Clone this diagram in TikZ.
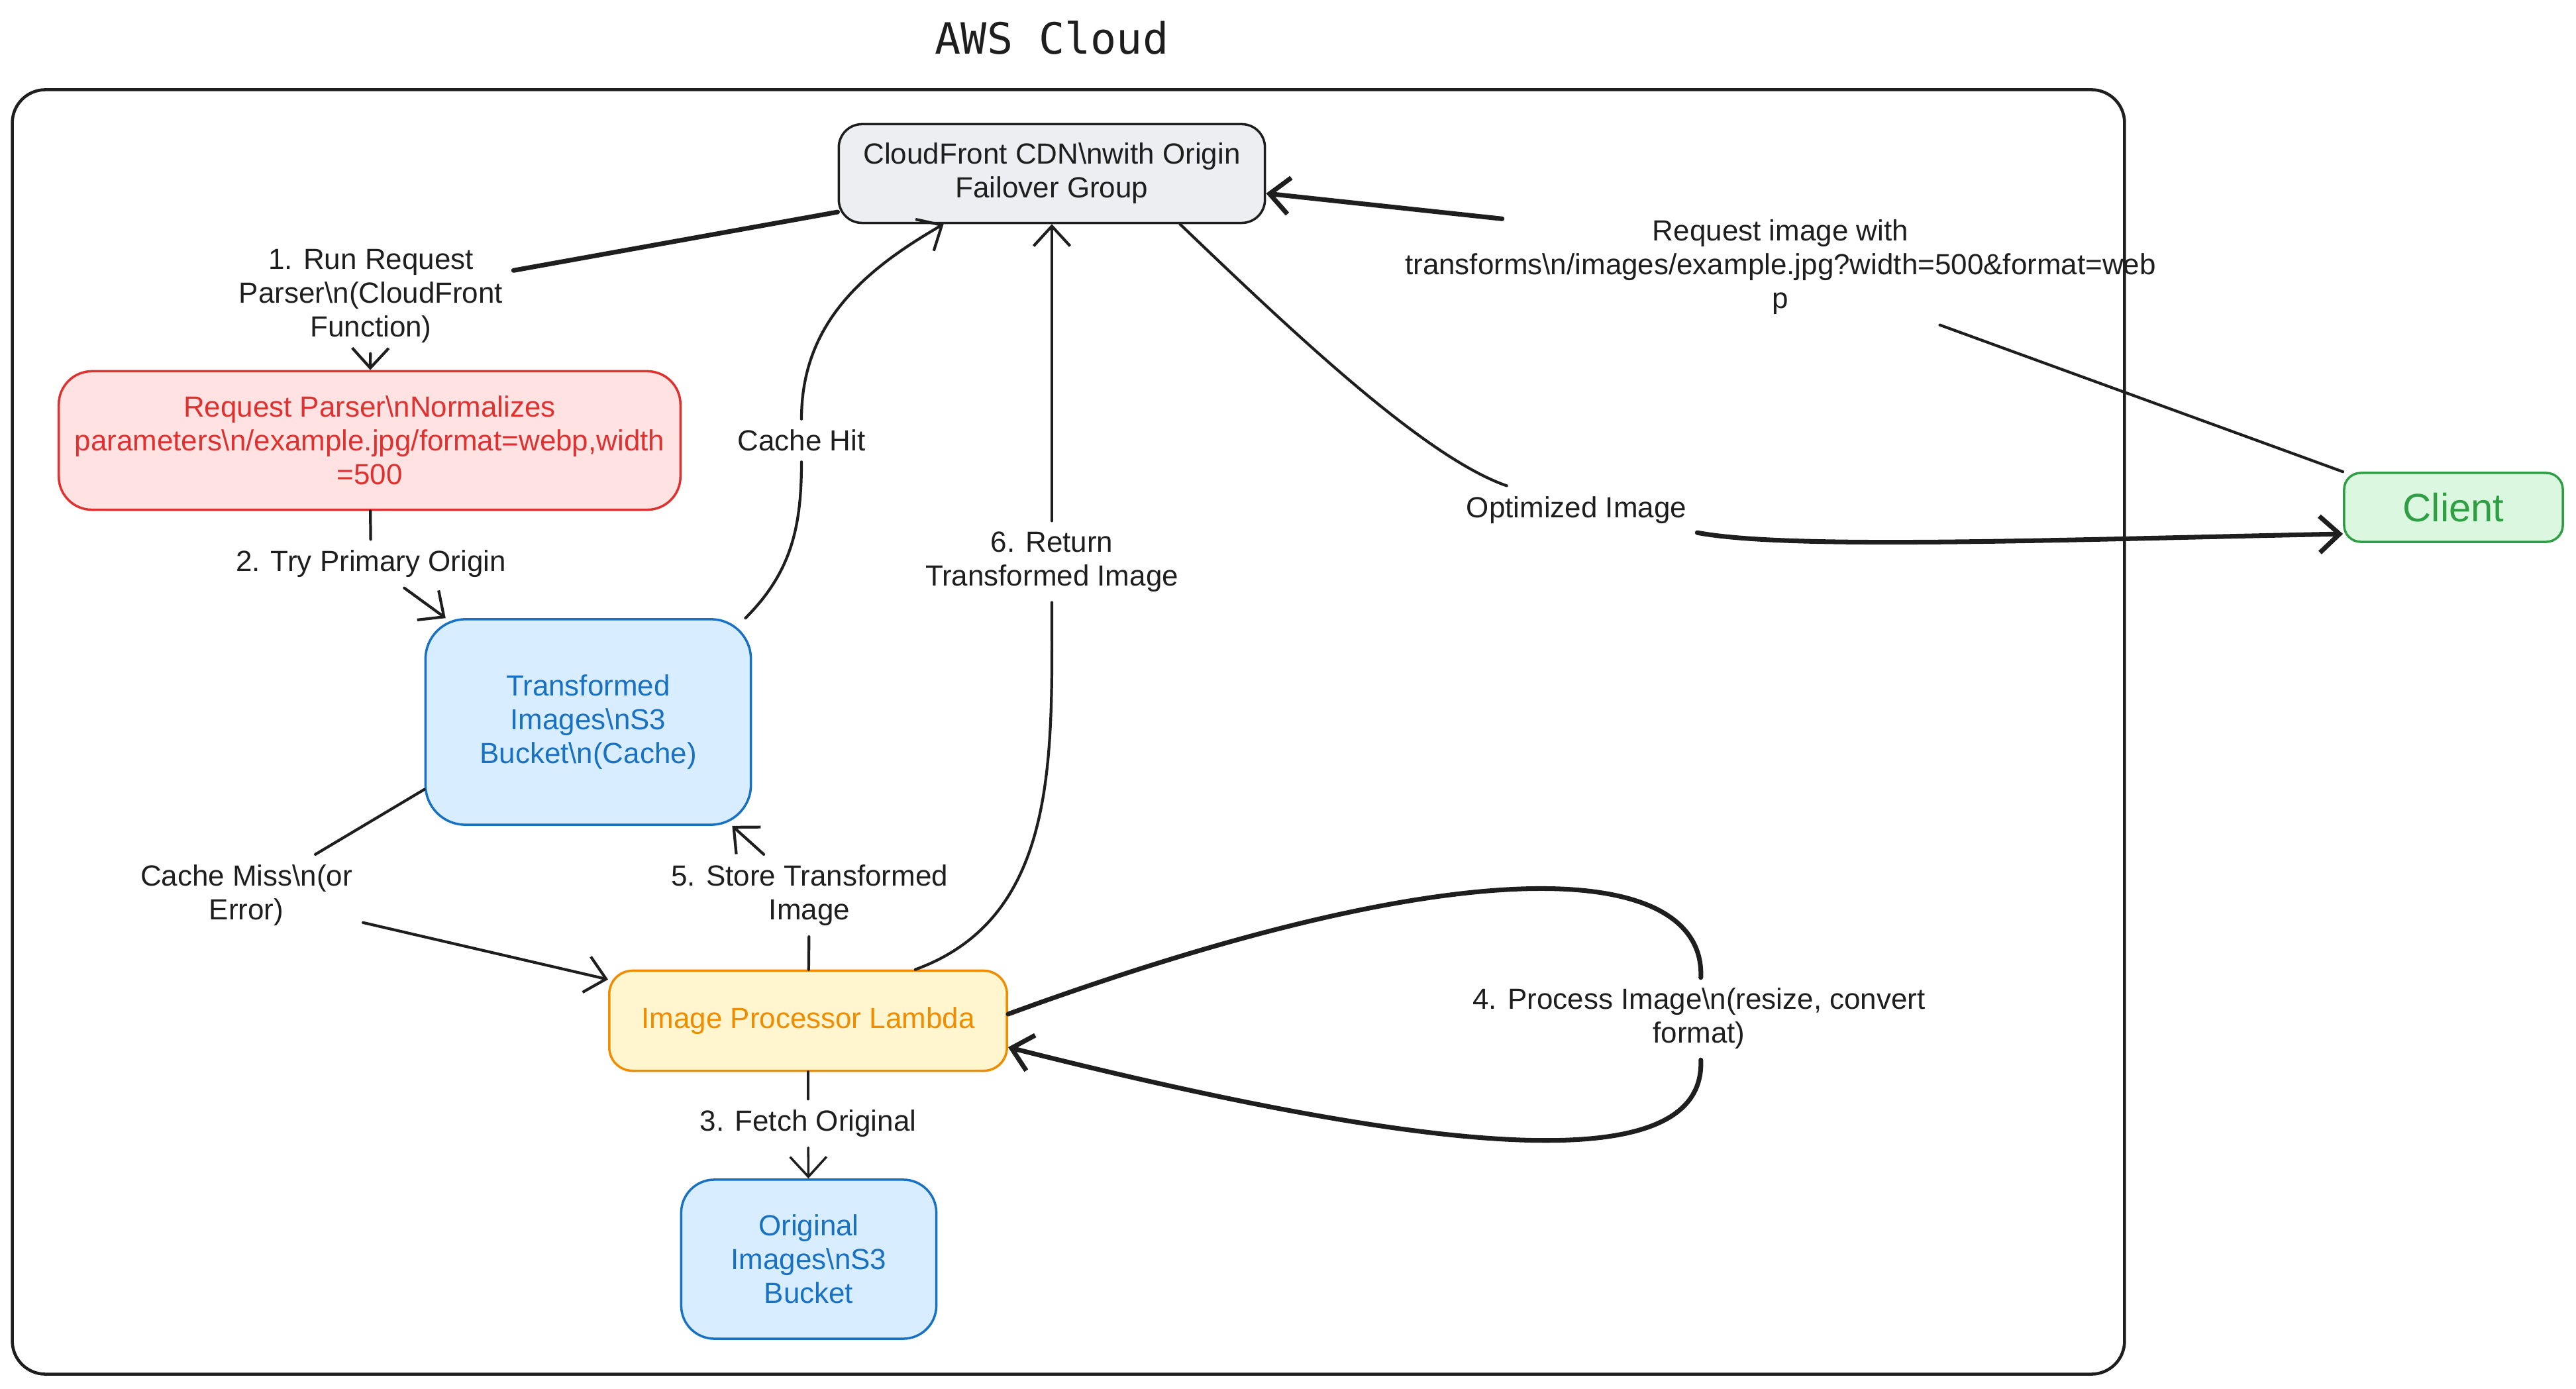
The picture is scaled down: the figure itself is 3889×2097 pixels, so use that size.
\documentclass[tikz,border=0pt]{standalone}
\usepackage{fontspec}
\setmainfont{Liberation Sans}
\newfontfamily\monofont{DejaVu Sans Mono}
\usetikzlibrary{arrows.meta}

\definecolor{ink}{HTML}{1E1E1E}
\definecolor{cffill}{HTML}{ECEEF2}
\definecolor{rpline}{HTML}{E03131}
\definecolor{rpfill}{HTML}{FFE2E2}
\definecolor{s3line}{HTML}{1971C2}
\definecolor{s3fill}{HTML}{D8EDFF}
\definecolor{lamline}{HTML}{F08C00}
\definecolor{lamfill}{HTML}{FFF6CF}
\definecolor{clline}{HTML}{2F9E44}
\definecolor{clfill}{HTML}{DBF7DF}

\begin{document}
\begin{tikzpicture}[x=0.01cm, y=-0.01cm, >={Straight Barb[length=3mm,width=5.5mm]}, line width=1.2pt, line cap=round, draw=ink]

\tikzstyle{every node} = [align=center, text=ink, font=\fontsize{12.5}{14.5}\selectfont]
\tikzstyle{box} = [rectangle, draw, rounded corners=0.35cm, line width=1pt]
\tikzstyle{lbl} = [inner sep=4pt]
\tikzstyle{heavy} = [line width=2pt]

\useasboundingbox (0,0) rectangle (3889,2097);

\node[font=\monofont\fontsize{18.5}{20}\selectfont] (title) at (1588,57) {AWS Cloud};
\node[box, draw=ink, line width=1.3pt, rounded corners=0.5cm, minimum width=31.87cm, minimum height=19.38cm] (aws) at (1613,1105) {};

\node[box, draw=ink, fill=cffill, minimum width=6.43cm, minimum height=1.49cm] (cf) at (1588,262) {CloudFront CDN\textbackslash nwith Origin\\Failover Group};
\node[box, draw=rpline, fill=rpfill, text=rpline, rounded corners=0.5cm, minimum width=9.38cm, minimum height=2.09cm] (rp) at (558,665) {Request Parser\textbackslash nNormalizes\\parameters\textbackslash n/example.jpg/format=webp,width\\=500};
\node[box, draw=s3line, fill=s3fill, text=s3line, rounded corners=0.6cm, minimum width=4.91cm, minimum height=3.10cm] (tc) at (888,1090) {Transformed\\Images\textbackslash nS3\\Bucket\textbackslash n(Cache)};
\node[box, draw=lamline, fill=lamfill, text=lamline, minimum width=6.0cm, minimum height=1.51cm] (lam) at (1220,1541) {Image Processor Lambda};
\node[box, draw=s3line, fill=s3fill, text=s3line, rounded corners=0.5cm, minimum width=3.85cm, minimum height=2.40cm] (orig) at (1221,1901) {Original\\Images\textbackslash nS3\\Bucket};
\node[box, draw=clline, fill=clfill, text=clline, rounded corners=0.25cm, minimum width=3.30cm, minimum height=1.04cm, font=\fontsize{17}{19}\selectfont] (cl) at (3704,766) {Client};

\node[lbl] (run) at (560,447) {1. Run Request\\Parser\textbackslash n(CloudFront\\Function)};
\node[lbl] (try) at (560,851) {2. Try Primary Origin};
\node[lbl] (hit) at (1210,665) {Cache Hit};
\node[lbl] (miss) at (372,1352) {Cache Miss\textbackslash n(or\\Error)};
\node[lbl] (store) at (1222,1352) {5. Store Transformed\\Image};
\node[lbl] (ret) at (1588,848) {6. Return\\Transformed Image};
\node[lbl] (fetch) at (1220,1696) {3. Fetch Original};
\node[lbl] (proc) at (2565,1538) {4. Process Image\textbackslash n(resize, convert\\format)};
\node[lbl] (req) at (2688,403) {Request image with\\transforms\textbackslash n/images/example.jpg?width=500\&format=web\\p};
\node[lbl] (opt) at (2380,770) {Optimized Image};

\draw[heavy] (cf) -- (run);
\draw[->] (run) -- (rp);
\draw (rp) -- (try);
\draw[->] (try) -- (tc);
\draw ([xshift=-0.1cm]tc.north east) to[out=45,in=-90] (hit);
\draw[->] (hit) to[out=90,in=210] ([xshift=1.6cm]cf.south west);
\draw ([yshift=0.55cm]tc.south west) -- (miss);
\draw[->] (miss) -- ([yshift=-0.15cm]lam.north west);
\draw (lam) -- (store);
\draw[->] (store) -- ([xshift=-0.3cm]tc.south east);
\draw ([xshift=-1.4cm]lam.north east) to[out=20,in=-90] (ret);
\draw[->] (ret) -- (ret |- cf.south);
\draw (lam) -- (fetch);
\draw[->, line width=1pt] (fetch) -- (orig);
\draw[heavy] ([yshift=0.1cm]lam.east) .. controls (2250,1265) and (2575,1310) .. (proc);
\draw[->, heavy] (proc) .. controls (2575,1765) and (2250,1765) .. ([yshift=-0.4cm]lam.east);
\draw (cl.north west) -- (req);
\draw[->, heavy] ([xshift=-4.2cm,yshift=-0.15cm]req.north) -- ([yshift=-0.3cm]cf.east);
\draw ([xshift=-1.3cm]cf.south east) .. controls (1950,500) and (2150,690) .. (opt);
\draw[->, heavy] (opt) .. controls (2700,830) and (3100,815) .. ([yshift=-0.4cm]cl.west);
\end{tikzpicture}
\end{document}
